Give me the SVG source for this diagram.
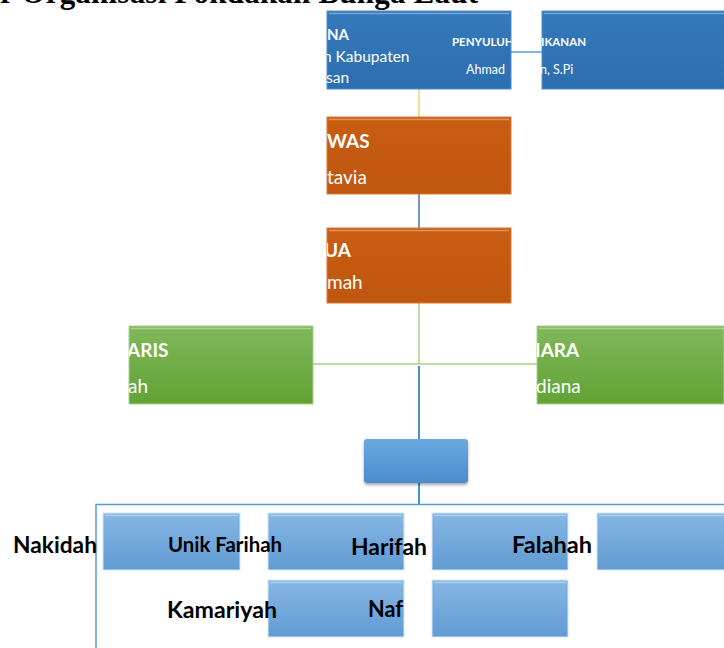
<svg xmlns="http://www.w3.org/2000/svg" width="724" height="648" viewBox="0 0 724 648">
<style>
.wt{font-family:Lato,"Open Sans",sans-serif;fill:#fff}
.b{font-weight:bold}
.lbl{font-family:Lato,"Open Sans",sans-serif;font-weight:bold;fill:#000}
.hl{fill:none;stroke:#fff;stroke-opacity:.35;stroke-width:1.5}
.conn{fill:none;stroke-width:1.5}
</style>
<defs>
<linearGradient id="gBlue" x1="0" y1="0" x2="0" y2="1"><stop offset="0" stop-color="#3479bb"/><stop offset="1" stop-color="#2c6fb0"/></linearGradient>
<linearGradient id="gOrange" x1="0" y1="0" x2="0" y2="1"><stop offset="0" stop-color="#c85d12"/><stop offset="1" stop-color="#c0570f"/></linearGradient>
<linearGradient id="gGreen" x1="0" y1="0" x2="0" y2="1"><stop offset="0" stop-color="#80b85a"/><stop offset="1" stop-color="#62a235"/></linearGradient>
<linearGradient id="gLight" x1="0" y1="0" x2="0" y2="1"><stop offset="0" stop-color="#86b6e4"/><stop offset="1" stop-color="#619bd3"/></linearGradient>
<linearGradient id="gMid" x1="0" y1="0" x2="0" y2="1"><stop offset="0" stop-color="#6aa8e0"/><stop offset="1" stop-color="#4a8ccd"/></linearGradient>
<filter id="sh" x="-10%" y="-10%" width="130%" height="140%"><feDropShadow dx="0" dy="2" stdDeviation="1.5" flood-color="#000" flood-opacity=".35"/></filter>
<clipPath id="c1"><rect x="327" y="11" width="184" height="78"/></clipPath>
<clipPath id="c3"><rect x="327" y="117" width="184" height="77"/></clipPath>
<clipPath id="c4"><rect x="327" y="228" width="184" height="75"/></clipPath>
<clipPath id="c6"><rect x="129" y="326" width="184" height="78"/></clipPath>
<clipPath id="c7"><rect x="537" y="326" width="187" height="78"/></clipPath>
</defs>
<rect width="724" height="648" fill="#fff"/>
<text x="0" y="3" font-family="'Liberation Serif',serif" font-weight="bold" font-size="31" fill="#000" textLength="478">r Organisasi Pokdakan Bunga Laut</text>

<g id="connectors">
<line class="conn" x1="511" y1="52" x2="542" y2="52" stroke="#5b9bd5"/>
<line class="conn" x1="419" y1="89" x2="419" y2="117" stroke="#f0d36a"/>
<line class="conn" x1="419" y1="194" x2="419" y2="228" stroke="#4472c4"/>
<line class="conn" x1="419" y1="303" x2="419" y2="364" stroke="#a9d18e"/>
<line class="conn" x1="313" y1="364" x2="537" y2="364" stroke="#a9d18e"/>
<line class="conn" x1="419" y1="366" x2="419" y2="439" stroke="#0070c0" stroke-width="2"/>
<line class="conn" x1="419" y1="483" x2="419" y2="505" stroke="#0070c0" stroke-width="2"/>
<path class="conn" d="M96 648 V504.5 H724" stroke="#5b9bd5"/>
</g>

<g id="pembina">
<rect x="327" y="11" width="184" height="78" fill="url(#gBlue)" stroke="#4a8fd0" stroke-width="1"/>
<path class="hl" d="M329 13.5 H509"/>
<g clip-path="url(#c1)">
<text class="wt b" x="327" y="40" font-size="15">NA</text>
<text class="wt" x="323" y="62" font-size="15.5">n Kabupaten</text>
<text class="wt" x="326" y="83" font-size="15.5">san</text>
<text class="wt b" x="452" y="46" font-size="11.5">PENYULUH</text>
<text class="wt" x="466" y="74" font-size="12.5">Ahmad</text>
</g>
</g>

<g id="penyuluh">
<rect x="542" y="11" width="184" height="78" fill="url(#gBlue)" stroke="#4a8fd0" stroke-width="1"/>
<path class="hl" d="M544 13.5 H724"/>
<text class="wt b" x="541" y="46" font-size="11.5">IKANAN</text>
<text class="wt" x="540" y="74" font-size="12.5">n, S.Pi</text>
</g>

<g id="pengawas">
<rect x="327" y="117" width="184" height="77" fill="url(#gOrange)" stroke="#e07a30" stroke-width="1"/>
<path class="hl" d="M329 119.5 H509"/>
<g clip-path="url(#c3)">
<text class="wt b" x="327" y="148" font-size="19">WAS</text>
<text class="wt" x="327" y="184" font-size="19">tavia</text>
</g>
</g>

<g id="ketua">
<rect x="327" y="228" width="184" height="75" fill="url(#gOrange)" stroke="#e07a30" stroke-width="1"/>
<path class="hl" d="M329 230.5 H509"/>
<g clip-path="url(#c4)">
<text class="wt b" x="324" y="257" font-size="19">UA</text>
<text class="wt" x="327" y="289" font-size="19">mah</text>
</g>
</g>

<g id="sekretaris">
<rect x="129" y="326" width="184" height="78" fill="url(#gGreen)" stroke="#a9d18e" stroke-width="1"/>
<path class="hl" d="M131 328.5 H311"/>
<g clip-path="url(#c6)">
<text class="wt b" x="127" y="357" font-size="19">ARIS</text>
<text class="wt" x="128" y="393" font-size="19">ah</text>
</g>
</g>

<g id="bendahara">
<rect x="537" y="326" width="187" height="78" fill="url(#gGreen)" stroke="#a9d18e" stroke-width="1"/>
<path class="hl" d="M539 328.5 H724"/>
<g clip-path="url(#c7)">
<text class="wt b" x="535" y="357" font-size="19">IARA</text>
<text class="wt" x="536" y="393" font-size="19">diana</text>
</g>
</g>

<g id="anggota">
<rect x="364" y="439" width="104" height="44" rx="3" fill="url(#gMid)" filter="url(#sh)"/>
</g>

<g id="m1"><rect x="103" y="513" width="137" height="57" fill="url(#gLight)" stroke="#cfe6f7" stroke-width="1"/><path class="hl" d="M105 515.5 H238"/></g>
<g id="m2"><rect x="268" y="513" width="136" height="57" fill="url(#gLight)" stroke="#cfe6f7" stroke-width="1"/><path class="hl" d="M270 515.5 H402"/></g>
<g id="m3"><rect x="432" y="513" width="136" height="57" fill="url(#gLight)" stroke="#cfe6f7" stroke-width="1"/><path class="hl" d="M434 515.5 H566"/></g>
<g id="m4"><rect x="597" y="513" width="130" height="57" fill="url(#gLight)" stroke="#cfe6f7" stroke-width="1"/><path class="hl" d="M599 515.5 H724"/></g>
<g id="m5"><rect x="268" y="580" width="136" height="57" fill="url(#gLight)" stroke="#cfe6f7" stroke-width="1"/><path class="hl" d="M270 582.5 H402"/></g>
<g id="m6"><rect x="432" y="580" width="136" height="57" fill="url(#gLight)" stroke="#cfe6f7" stroke-width="1"/><path class="hl" d="M434 582.5 H566"/></g>

<g id="labels">
<text class="lbl" x="13" y="553" font-size="22" textLength="84" lengthAdjust="spacingAndGlyphs">Nakidah</text>
<text class="lbl" x="168" y="552" font-size="21" textLength="114" lengthAdjust="spacingAndGlyphs">Unik Farihah</text>
<text class="lbl" x="351" y="555" font-size="23" textLength="76" lengthAdjust="spacingAndGlyphs">Harifah</text>
<text class="lbl" x="512" y="553" font-size="22" textLength="80" lengthAdjust="spacingAndGlyphs">Falahah</text>
<text class="lbl" x="167" y="618" font-size="22" textLength="110" lengthAdjust="spacingAndGlyphs">Kamariyah</text>
<text class="lbl" x="368" y="617" font-size="23" textLength="35" lengthAdjust="spacingAndGlyphs">Naf</text>
</g>
</svg>
